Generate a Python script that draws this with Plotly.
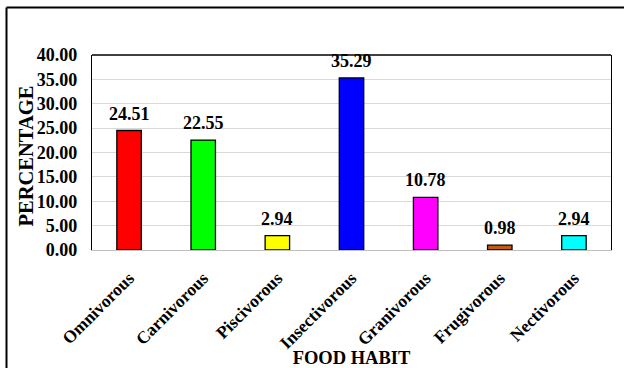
import plotly.graph_objects as go

habits = ["Omnivorous", "Carnivorous", "Piscivorous", "Insectivorous",
          "Granivorous", "Frugivorous", "Nectivorous"]
percent = [24.51, 22.55, 2.94, 35.29, 10.78, 0.98, 2.94]
bar_colors = ["#ff0000", "#00ff00", "#ffff00", "#0000ff",
              "#ff00ff", "#c55a11", "#00ffff"]
y_ticks = [0, 5, 10, 15, 20, 25, 30, 35, 40]

W, H = 624, 368
ML, MR, MT, MB = 92, 13, 55, 118
PW, PH = W - ML - MR, H - MT - MB

FONT = "Liberation Serif"

fig = go.Figure(go.Bar(
    x=habits,
    y=percent,
    marker=dict(color=bar_colors, line=dict(color="black", width=1.3)),
    cliponaxis=False,
    width=0.33,
))


def px(x):
    return (x - ML) / PW


def py(y):
    return (H - MB - y) / PH


shapes = [
    # outer frame (left and top edges)
    dict(type="line", xref="paper", yref="paper", x0=px(6.5), x1=px(W + 5),
         y0=py(7.5), y1=py(7.5), line=dict(color="black", width=2)),
    dict(type="line", xref="paper", yref="paper", x0=px(6.5), x1=px(6.5),
         y0=py(7.5), y1=py(H + 5), line=dict(color="black", width=2)),
    # top edge of plot area
    dict(type="line", xref="paper", yref="paper", x0=0, x1=1, y0=1, y1=1,
         line=dict(color="black", width=1.3)),
]

# value labels above each bar
value_labels = [
    dict(x=h, y=v, xref="x", yref="y", text=f"<b>{v:.2f}</b>",
         showarrow=False, xanchor="center", yanchor="bottom", yshift=5,
         font=dict(family=FONT, size=18, color="black"))
    for h, v in zip(habits, percent)
]

fig.update_layout(
    width=W, height=H,
    margin=dict(l=ML, r=MR, t=MT, b=MB, pad=0, autoexpand=False),
    paper_bgcolor="white", plot_bgcolor="white",
    showlegend=False,
    font=dict(family=FONT, color="black"),
    shapes=shapes,
    annotations=value_labels + [
        dict(text="<b>PERCENTAGE</b>", xref="paper", yref="paper",
             x=px(25.5), y=py(156), xanchor="center", yanchor="middle",
             textangle=-90, showarrow=False,
             font=dict(family=FONT, size=20.5, color="black")),
    ],
    xaxis=dict(
        automargin=False,
        tickangle=-45,
        tickfont=dict(family=FONT, size=17.5, color="black"),
        tickprefix="<b>", ticksuffix="</b>",
        showline=True, linecolor="#bfbfbf", linewidth=1,
        ticks="outside", ticklen=10, tickcolor="rgba(0,0,0,0)",
        showgrid=False,
        title=dict(text="<b>FOOD HABIT</b>",
                   font=dict(family=FONT, size=18.5, color="black"),
                   standoff=0),
    ),
    yaxis=dict(
        automargin=False,
        range=[0, 40],
        tickvals=y_ticks,
        ticktext=[f"<b>{v:.2f}</b>" for v in y_ticks],
        tickfont=dict(family=FONT, size=18, color="black"),
        showgrid=True, gridcolor="#d9d9d9", gridwidth=1,
        showline=True, linecolor="black", linewidth=1.3, mirror=True,
        ticks="outside", ticklen=10, tickcolor="rgba(0,0,0,0)",
        zeroline=False,
    ),
)

fig.write_html("out.html")
